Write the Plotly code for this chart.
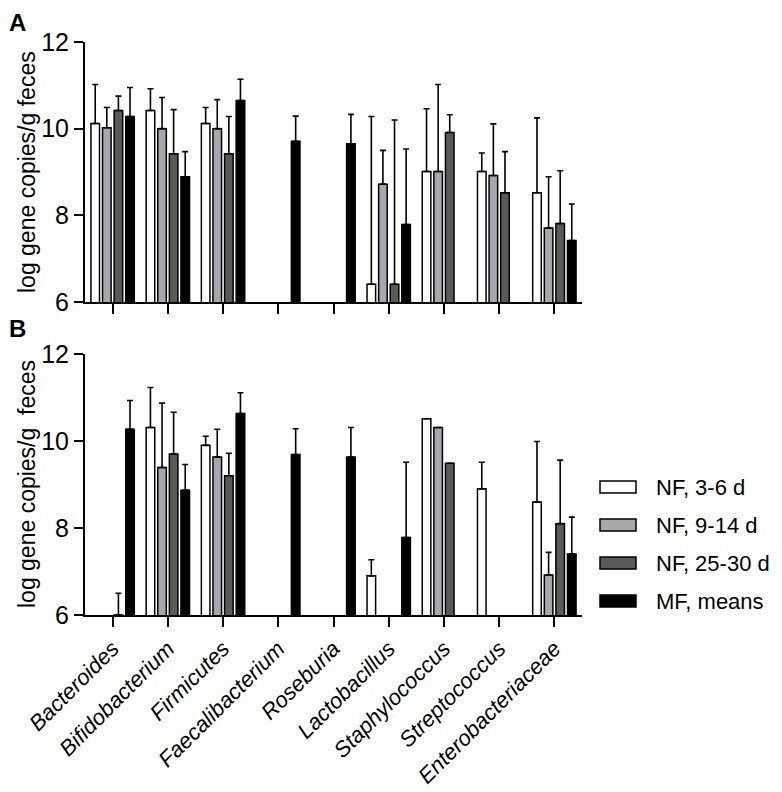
import plotly.graph_objects as go

categories = ["Bacteroides", "Bifidobacterium", "Firmicutes", "Faecalibacterium",
              "Roseburia", "Lactobacillus", "Staphylococcus", "Streptococcus",
              "Enterobacteriaceae"]
series_names = ["NF, 3-6 d", "NF, 9-14 d", "NF, 25-30 d", "MF, means"]
series_colors = ["#ffffff", "#a7a7ad", "#5a5b56", "#000000"]

# Panel A values (log gene copies/g feces) and upper SD
nf36_a = [10.12, 10.42, 10.12, None, None, 6.41, 9.01, 9.01, 8.52]
nf36_a_err = [0.90, 0.50, 0.37, None, None, 3.87, 1.45, 0.43, 1.73]
nf914_a = [10.02, 10.00, 10.00, None, None, 8.72, 9.01, 8.92, 7.71]
nf914_a_err = [0.47, 0.72, 0.67, None, None, 0.78, 2.01, 1.19, 1.18]
nf2530_a = [10.42, 9.42, 9.42, None, None, 6.41, 9.91, 8.52, 7.81]
nf2530_a_err = [0.33, 1.02, 0.86, None, None, 3.79, 0.41, 0.95, 1.22]
mf_a = [10.28, 8.89, 10.65, 9.71, 9.65, 7.79, None, None, 7.42]
mf_a_err = [0.67, 0.58, 0.49, 0.58, 0.68, 1.74, None, None, 0.84]

# Panel B values
nf36_b = [None, 10.31, 9.90, None, None, 6.90, 10.51, 8.90, 8.60]
nf36_b_err = [None, 0.92, 0.21, None, None, 0.37, 0, 0.61, 1.39]
nf914_b = [None, 9.39, 9.63, None, None, None, 10.31, None, 6.92]
nf914_b_err = [None, 1.48, 0.64, None, None, None, 0, None, 0.52]
nf2530_b = [6.0, 9.70, 9.20, None, None, None, 9.49, None, 8.10]
nf2530_b_err = [0.5, 0.96, 0.52, None, None, None, 0, None, 1.46]
mf_b = [10.27, 8.87, 10.63, 9.69, 9.63, 7.78, None, None, 7.40]
mf_b_err = [0.66, 0.59, 0.48, 0.59, 0.68, 1.73, None, None, 0.85]

y_ticks = [6, 8, 10, 12]
y_title = "log gene copies/g feces"
y_title_b = "log gene copies/g  feces"

FONT = "Liberation Sans, Arial, sans-serif"

OFF = 8  # page body margin
W, H = 782, 792
PW, PH = 497, 573
ML = 85 - OFF
MT = 42 - OFF
MR = W - ML - PW
MB = H - MT - PH


def px_x(p):
    return (p - OFF - ML) / PW


def px_y(p):
    return (MT + PH - (p - OFF)) / PH


fig = go.Figure()

panels = [
    ("x", "y", [nf36_a, nf914_a, nf2530_a, mf_a],
     [nf36_a_err, nf914_a_err, nf2530_a_err, mf_a_err]),
    ("x2", "y2", [nf36_b, nf914_b, nf2530_b, mf_b],
     [nf36_b_err, nf914_b_err, nf2530_b_err, mf_b_err]),
]
for xa, ya, vals, errs in panels:
    for name, col, v, e in zip(series_names, series_colors, vals, errs):
        fig.add_trace(go.Bar(
            x=categories, y=v, name=name, xaxis=xa, yaxis=ya,
            marker=dict(color=col, line=dict(color="black", width=1.5)),
            error_y=dict(type="data", array=e, arrayminus=[0] * len(e),
                         symmetric=False, color="black", thickness=1.6, width=3),
            showlegend=False,
        ))

yaxis_common = dict(range=[6, 12], tickvals=y_ticks, ticks="outside", ticklen=9,
                    tickwidth=2, tickcolor="black", showline=True, linewidth=2,
                    linecolor="black", showgrid=False, zeroline=False,
                    tickfont=dict(family=FONT, size=25, color="black"))
xaxis_common = dict(type="category", range=[-0.5, 8.5], ticks="outside", ticklen=10,
                    tickwidth=2, tickcolor="black", showline=True, linewidth=2,
                    linecolor="black", showgrid=False, zeroline=False)

dom_a = [px_y(302), 1.0]
dom_b = [0.0, px_y(354)]

fig.update_layout(
    width=W, height=H,
    margin=dict(l=ML, r=MR, t=MT, b=MB),
    paper_bgcolor="white", plot_bgcolor="white",
    barmode="group", bargap=0.16, bargroupgap=0.26,
    font=dict(family=FONT, color="black"),
    xaxis=dict(anchor="y", showticklabels=False, **xaxis_common),
    yaxis=dict(anchor="x", domain=dom_a, **yaxis_common),
    xaxis2=dict(anchor="y2", showticklabels=True, tickangle=-45,
                tickvals=categories,
                ticktext=["<i>" + c + "</i>" for c in categories],
                tickfont=dict(family=FONT, size=22, color="black"),
                **xaxis_common),
    yaxis2=dict(anchor="x2", domain=dom_b, **yaxis_common),
    showlegend=False,
)

annotations = [
    dict(text="<b>A</b>", x=px_x(8), y=px_y(8), xref="paper", yref="paper",
         xanchor="left", yanchor="top", showarrow=False, borderpad=0,
         font=dict(family=FONT, size=24, color="black")),
    dict(text="<b>B</b>", x=px_x(8), y=px_y(314), xref="paper", yref="paper",
         xanchor="left", yanchor="top", showarrow=False, borderpad=0,
         font=dict(family=FONT, size=24, color="black")),
    dict(text=y_title, x=px_x(27), y=px_y(172), xref="paper", yref="paper",
         xanchor="center", yanchor="middle", textangle=-90, showarrow=False,
         font=dict(family=FONT, size=23, color="black")),
    dict(text=y_title_b, x=px_x(27), y=px_y(484), xref="paper", yref="paper",
         xanchor="center", yanchor="middle", textangle=-90, showarrow=False,
         font=dict(family=FONT, size=23, color="black")),
]

shapes = []
legend_rows = [487, 525, 563, 601]
for name, col, cy in zip(series_names, series_colors, legend_rows):
    shapes.append(dict(type="rect", xref="paper", yref="paper",
                       x0=px_x(600), x1=px_x(636), y0=px_y(cy + 6), y1=px_y(cy - 6),
                       fillcolor=col, line=dict(color="black", width=1.5)))
    annotations.append(dict(text=name, x=px_x(654), y=px_y(cy), xref="paper",
                            yref="paper", xanchor="left", yanchor="middle",
                            showarrow=False,
                            font=dict(family=FONT, size=22, color="black")))

fig.update_layout(annotations=annotations, shapes=shapes)

fig.write_html("out.html")
